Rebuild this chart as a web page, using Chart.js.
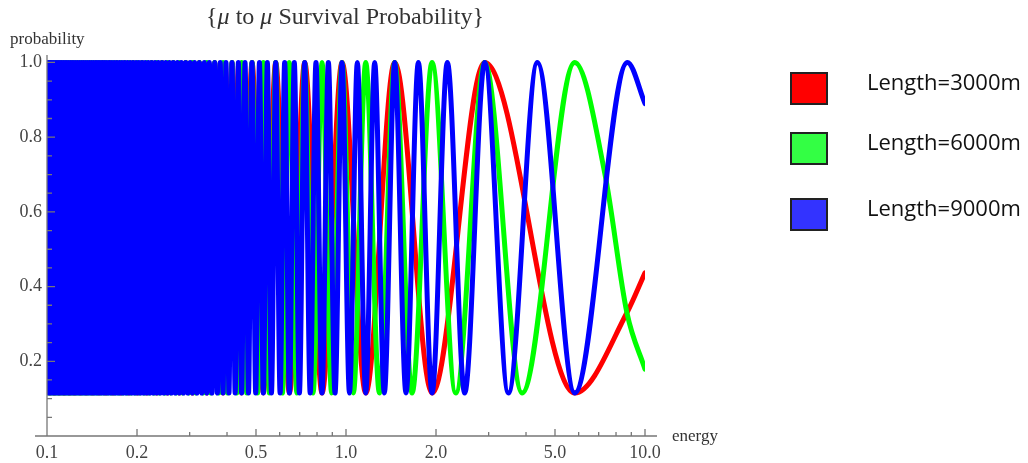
<!DOCTYPE html>
<html>
<head>
<meta charset="utf-8">
<script src="https://cdn.jsdelivr.net/npm/chart.js@4.4.1/dist/chart.umd.min.js"></script>
<style>
  body { margin: 0; background: #fff; }
  #wrap { position: relative; width: 1028px; height: 463px; }
  #legend { position: absolute; left: 790px; top: 0; }
  .item { position: absolute; left: 0; width: 240px; height: 34px; }
  .box { position: absolute; left: 0; top: 0; width: 34px; height: 29px; border: 2px solid #222; }
  .lbl { position: absolute; left: 77px; top: -6px; font: 22px "Open Sans", sans-serif; color: #111; white-space: nowrap; }
</style>
</head>
<body>
<div id="wrap">
  <canvas id="c" width="1028" height="463"></canvas>
  <div id="legend"></div>
</div>
<script>
// survival probability curves
// energies of the successive maxima / minima (high energy first)
const redExtrema = [5.82, 2.91, 1.94, 1.455, 1.164, 0.97, 0.8314, 0.7275, 0.6467, 0.582,
  0.5291, 0.485, 0.4477, 0.4157, 0.388, 0.3638, 0.3424, 0.3233, 0.3063, 0.291,
  0.2771, 0.2645, 0.253, 0.2425, 0.2328, 0.2238, 0.2156, 0.2079, 0.2007, 0.194,
  0.1877, 0.1819, 0.1764, 0.1712, 0.1663, 0.1617, 0.1573, 0.1532, 0.1492, 0.1455,
  0.142, 0.1386, 0.1353, 0.1323, 0.1293, 0.1265, 0.1238, 0.1213, 0.1188, 0.1164,
  0.1141, 0.1119, 0.1098, 0.1078, 0.1058, 0.1039, 0.1021, 0.1003];
const greenExtrema = [5.82, 3.88, 2.91, 2.328, 1.94, 1.6629, 1.455, 1.2933, 1.164, 1.0582,
  0.97, 0.8954, 0.8314, 0.776, 0.7275, 0.6847, 0.6467, 0.6126, 0.582, 0.5543,
  0.5291, 0.5061, 0.485, 0.4656, 0.4477, 0.4311, 0.4157, 0.4014, 0.388, 0.3755,
  0.3638, 0.3527, 0.3424, 0.3326, 0.3233, 0.3146, 0.3063, 0.2985, 0.291, 0.2839,
  0.2771, 0.2707, 0.2645, 0.2587, 0.253, 0.2477, 0.2425, 0.2376, 0.2328, 0.2282,
  0.2238, 0.2196, 0.2156, 0.2116, 0.2079, 0.2042, 0.2007, 0.1973, 0.194, 0.1908,
  0.1877, 0.1848, 0.1819, 0.1791, 0.1764, 0.1737, 0.1712, 0.1687, 0.1663, 0.1639,
  0.1617, 0.1595, 0.1573, 0.1552, 0.1532, 0.1512, 0.1492, 0.1473, 0.1455, 0.1437,
  0.142, 0.1402, 0.1386, 0.1369, 0.1353, 0.1338, 0.1323, 0.1308, 0.1293, 0.1279,
  0.1265, 0.1252, 0.1238, 0.1225, 0.1213, 0.12, 0.1188, 0.1176, 0.1164, 0.1152,
  0.1141, 0.113, 0.1119, 0.1109, 0.1098, 0.1088, 0.1078, 0.1068, 0.1058, 0.1049,
  0.1039, 0.103, 0.1021, 0.1012, 0.1003];
const blueExtrema = [8.73, 5.82, 4.365, 3.492, 2.91, 2.4943, 2.1825, 1.94, 1.746, 1.5873,
  1.455, 1.3431, 1.2471, 1.164, 1.0913, 1.0271, 0.97, 0.9189, 0.873, 0.8314,
  0.7936, 0.7591, 0.7275, 0.6984, 0.6715, 0.6467, 0.6236, 0.6021, 0.582, 0.5632,
  0.5456, 0.5291, 0.5135, 0.4989, 0.485, 0.4719, 0.4595, 0.4477, 0.4365, 0.4259,
  0.4157, 0.406, 0.3968, 0.388, 0.3796, 0.3715, 0.3638, 0.3563, 0.3492, 0.3424,
  0.3358, 0.3294, 0.3233, 0.3175, 0.3118, 0.3063, 0.301, 0.2959, 0.291, 0.2862,
  0.2816, 0.2771, 0.2728, 0.2686, 0.2645, 0.2606, 0.2568, 0.253, 0.2494, 0.2459,
  0.2425, 0.2392, 0.2359, 0.2328, 0.2297, 0.2268, 0.2238, 0.221, 0.2183, 0.2156,
  0.2129, 0.2104, 0.2079, 0.2054, 0.203, 0.2007, 0.1984, 0.1962, 0.194, 0.1919,
  0.1898, 0.1877, 0.1857, 0.1838, 0.1819, 0.18, 0.1782, 0.1764, 0.1746, 0.1729,
  0.1712, 0.1695, 0.1679, 0.1663, 0.1647, 0.1632, 0.1617, 0.1602, 0.1587, 0.1573,
  0.1559, 0.1545, 0.1532, 0.1518, 0.1505, 0.1492, 0.148, 0.1467, 0.1455, 0.1443,
  0.1431, 0.142, 0.1408, 0.1397, 0.1386, 0.1375, 0.1364, 0.1353, 0.1343, 0.1333,
  0.1323, 0.1313, 0.1303, 0.1293, 0.1284, 0.1274, 0.1265, 0.1256, 0.1247, 0.1238,
  0.123, 0.1221, 0.1213, 0.1204, 0.1196, 0.1188, 0.118, 0.1172, 0.1164, 0.1156,
  0.1149, 0.1141, 0.1134, 0.1126, 0.1119, 0.1112, 0.1105, 0.1098, 0.1091, 0.1084,
  0.1078, 0.1071, 0.1065, 0.1058, 0.1052, 0.1046, 0.1039, 0.1033, 0.1027, 0.1021,
  0.1015, 0.1009, 0.1003];
// first (highest energy) extremum is a maximum?
const firstIsPeak = [false, true, true];
const peakLevel = 1.0;
const troughLevel = 0.115;

// the part of each curve above its last extremum, up to energy 10
const redTailE = [8.7, 10];
const redTailP = [0.33, 0.437];
const greenTailE = [7.35, 8.7, 10];
const greenTailP = [0.70, 0.33, 0.179];
const blueTailE = [10];
const blueTailP = [0.89];

const seriesLabels = ['Length=3000m', 'Length=6000m', 'Length=9000m'];
const lineColors = ['#ff0000', '#00ff00', '#0000ff'];
const boxColors = ['#ff0000', '#33ff44', '#3333ff'];

const xMajorTicks = [0.1, 0.2, 0.5, 1, 2, 5, 10];
const xMinorTicks = [0.3, 0.4, 0.6, 0.7, 0.8, 0.9, 3, 4, 6, 7, 8, 9];
const yMajorTicks = [0.2, 0.4, 0.6, 0.8, 1.0];
const yMinorTicks = [0.05, 0.1, 0.15, 0.25, 0.3, 0.35, 0.45, 0.5, 0.55, 0.65, 0.7, 0.75, 0.85, 0.9, 0.95];

function buildSeries(extrema, peakFirst, tailE, tailP) {
  const pts = extrema.map((e, i) => ({
    x: e,
    y: ((i % 2 === 0) === peakFirst) ? peakLevel : troughLevel
  }));
  pts.reverse();
  tailE.forEach((e, i) => pts.push({ x: e, y: tailP[i] }));
  return pts;
}

const seriesData = [
  buildSeries(redExtrema, firstIsPeak[0], redTailE, redTailP),
  buildSeries(greenExtrema, firstIsPeak[1], greenTailE, greenTailP),
  buildSeries(blueExtrema, firstIsPeak[2], blueTailE, blueTailP)
];

// Mathematica style axes, drawn on top of the curves
const axesPlugin = {
  id: 'mmaAxes',
  afterDatasetsDraw(chart) {
    const { ctx, chartArea: a, scales } = chart;
    const x = scales.x, y = scales.y;
    ctx.save();
    ctx.strokeStyle = '#777';
    ctx.lineWidth = 1.3;
    ctx.beginPath();
    ctx.moveTo(a.left - 12, a.bottom);
    ctx.lineTo(a.right + 12, a.bottom);
    ctx.moveTo(a.left, a.bottom);
    ctx.lineTo(a.left, a.top);
    xMajorTicks.forEach(v => {
      const px = x.getPixelForValue(v);
      ctx.moveTo(px, a.bottom); ctx.lineTo(px, a.bottom - 7);
    });
    xMinorTicks.forEach(v => {
      const px = x.getPixelForValue(v);
      ctx.moveTo(px, a.bottom); ctx.lineTo(px, a.bottom - 4);
    });
    yMajorTicks.forEach(v => {
      const py = y.getPixelForValue(v);
      ctx.moveTo(a.left, py); ctx.lineTo(a.left + 8, py);
    });
    yMinorTicks.forEach(v => {
      const py = y.getPixelForValue(v);
      ctx.moveTo(a.left, py); ctx.lineTo(a.left + 5, py);
    });
    ctx.stroke();
    ctx.restore();
  },
  afterDraw(chart) {
    const ctx = chart.ctx;
    ctx.save();
    ctx.fillStyle = '#333';
    ctx.textBaseline = 'alphabetic';
    // title with italic mu
    const parts = [['{', false], ['\u03bc', true], [' to ', false], ['\u03bc', true], [' Survival Probability}', false]];
    const reg = '24px "Liberation Serif", serif';
    const ital = 'italic 24px "Liberation Serif", serif';
    let total = 0;
    parts.forEach(p => { ctx.font = p[1] ? ital : reg; total += ctx.measureText(p[0]).width; });
    let tx = 345 - total / 2;
    parts.forEach(p => {
      ctx.font = p[1] ? ital : reg;
      ctx.fillText(p[0], tx, 24);
      tx += ctx.measureText(p[0]).width;
    });
    ctx.font = '17px "Liberation Serif", serif';
    ctx.fillText('probability', 10, 44);
    ctx.fillText('energy', 672, 441);
    ctx.restore();
  }
};

new Chart(document.getElementById('c').getContext('2d'), {
  type: 'line',
  data: {
    datasets: seriesData.map((d, i) => ({
      label: seriesLabels[i],
      data: d,
      borderColor: lineColors[i],
      borderWidth: 5,
      pointRadius: 0,
      fill: false,
      cubicInterpolationMode: 'monotone',
      borderJoinStyle: 'round',
      borderCapStyle: 'round',
      order: 3 - i
    }))
  },
  options: {
    responsive: false,
    animation: false,
    events: [],
    layout: { padding: { left: 0, right: 383, top: 55, bottom: 0 } },
    plugins: {
      legend: { display: false },
      tooltip: { enabled: false },
      title: { display: false }
    },
    scales: {
      x: {
        type: 'logarithmic',
        min: 0.1,
        max: 10,
        grid: { display: false, drawTicks: false },
        border: { display: false },
        afterBuildTicks: s => { s.ticks = xMajorTicks.map(v => ({ value: v })); },
        afterFit: s => { s.height = 27; },
        ticks: {
          autoSkip: false,
          maxRotation: 0,
          padding: 6,
          color: '#444',
          font: { family: '"Liberation Serif", serif', size: 18 },
          callback: v => Number(v).toFixed(1)
        }
      },
      y: {
        type: 'linear',
        min: 0,
        max: 1.02,
        grid: { display: false, drawTicks: false },
        border: { display: false },
        afterBuildTicks: s => { s.ticks = yMajorTicks.map(v => ({ value: v })); },
        afterFit: s => { s.width = 47; },
        ticks: {
          autoSkip: false,
          padding: 5,
          color: '#444',
          font: { family: '"Liberation Serif", serif', size: 18 },
          callback: v => Number(v).toFixed(1)
        }
      }
    }
  },
  plugins: [axesPlugin]
});

// legend
const legendTops = [72, 132, 198];
const legend = document.getElementById('legend');
seriesLabels.forEach((t, i) => {
  const item = document.createElement('div');
  item.className = 'item';
  item.style.top = legendTops[i] + 'px';
  item.innerHTML = '<div class="box" style="background:' + boxColors[i] + '"></div><div class="lbl">' + t + '</div>';
  legend.appendChild(item);
});
</script>
</body>
</html>
